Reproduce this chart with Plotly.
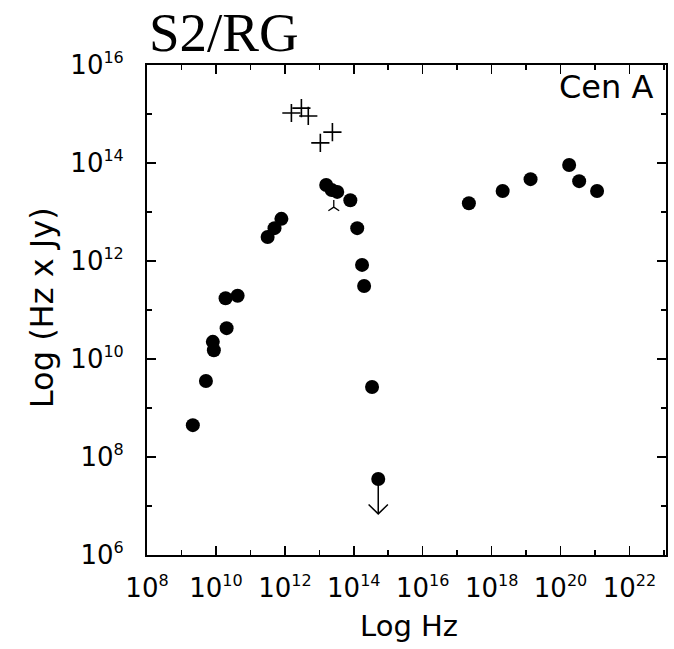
import plotly.graph_objects as go

# ---- data (log10 values) ----
dot_logfreq = [9.33, 9.71, 9.91, 9.94, 10.31, 10.28, 10.63, 11.50, 11.70, 11.90,
               13.20, 13.36, 13.52, 13.90, 14.10, 14.24, 14.30, 14.53,
               17.34, 18.32, 19.13, 20.25, 20.54, 21.06]
dot_logflux = [8.65, 9.55, 10.35, 10.18, 10.63, 11.24, 11.29, 12.49, 12.67, 12.86,
               13.55, 13.45, 13.41, 13.24, 12.67, 11.92, 11.49, 9.43,
               13.18, 13.43, 13.67, 13.96, 13.63, 13.43]

cross_logfreq = [12.19, 12.48, 12.68, 13.03, 13.38]
cross_logflux = [15.02, 15.12, 14.96, 14.41, 14.63]

vmark_logfreq = [13.42]
vmark_logflux = [13.10]

limit_logfreq = [14.71]
limit_logflux = [7.55]

x_major = [8, 10, 12, 14, 16, 18, 20, 22]
x_minor = [9, 11, 13, 15, 17, 19, 21, 23]
y_major = [6, 8, 10, 12, 14, 16]
y_minor = [7, 9, 11, 13, 15]

# styling constants
ARROW_LEN = 0.71   # decades
HEAD_DX = 0.28     # decades
HEAD_DY = 0.19     # decades


def p10(v):
    return 10.0 ** float(v)


def sup_label(v):
    return f"10<sup><span style='font-size:16px'>{v}</span></sup>"


fig = go.Figure()

fig.add_trace(go.Scatter(
    x=[p10(v) for v in dot_logfreq], y=[p10(v) for v in dot_logflux],
    mode="markers", marker=dict(symbol="circle", size=14, color="black"),
    showlegend=False, hoverinfo="skip"))

fig.add_trace(go.Scatter(
    x=[p10(v) for v in cross_logfreq], y=[p10(v) for v in cross_logflux],
    mode="markers",
    marker=dict(symbol="cross-thin-open", size=13, color="black",
                line=dict(color="black", width=1.6)),
    showlegend=False, hoverinfo="skip"))

fig.add_trace(go.Scatter(
    x=[p10(v) for v in vmark_logfreq], y=[p10(v) for v in vmark_logflux],
    mode="markers",
    marker=dict(symbol="y-up-open", size=9, color="black",
                line=dict(color="black", width=1.3)),
    showlegend=False, hoverinfo="skip"))

# upper limit point with downward arrow
fig.add_trace(go.Scatter(
    x=[p10(v) for v in limit_logfreq], y=[p10(v) for v in limit_logflux],
    mode="markers", marker=dict(symbol="circle", size=14, color="black"),
    showlegend=False, hoverinfo="skip"))
for lx, ly in zip(limit_logfreq, limit_logflux):
    tip = ly - ARROW_LEN
    fig.add_trace(go.Scatter(
        x=[p10(lx), p10(lx), None, p10(lx - HEAD_DX), p10(lx), p10(lx + HEAD_DX)],
        y=[p10(ly), p10(tip), None, p10(tip + HEAD_DY), p10(tip), p10(tip + HEAD_DY)],
        mode="lines", line=dict(color="black", width=1.5),
        showlegend=False, hoverinfo="skip"))

axis_common = dict(
    type="log", showline=True, linecolor="black", linewidth=2, mirror="ticks",
    ticks="inside", ticklen=9, tickwidth=1.5, tickcolor="black",
    showgrid=False, zeroline=False,
    tickfont=dict(family="DejaVu Sans", size=26, color="black"),
)

fig.update_xaxes(
    **axis_common, range=[8, 23.06], tickmode="array",
    tickvals=[p10(v) for v in x_major],
    ticktext=[sup_label(v) for v in x_major],
    minor=dict(tickmode="array", tickvals=[p10(v) for v in x_minor],
               ticks="inside", ticklen=5, tickwidth=1.5, tickcolor="black"),
    ticklabelstandoff=9,
)
fig.update_yaxes(
    **axis_common, range=[6, 16], tickmode="array",
    tickvals=[p10(v) for v in y_major],
    ticktext=[sup_label(v) for v in y_major],
    minor=dict(tickmode="array", tickvals=[p10(v) for v in y_minor],
               ticks="inside", ticklen=5, tickwidth=1.5, tickcolor="black"),
    ticklabelstandoff=16,
)

fig.add_annotation(text="S2/RG", xref="paper", yref="paper", x=0.0, y=1.1327,
                   xanchor="left", yanchor="top", showarrow=False,
                   font=dict(family="Liberation Serif", size=55, color="black"))
fig.add_annotation(text="Cen A", xref="paper", yref="paper", x=0.978, y=0.997,
                   xanchor="right", yanchor="top", showarrow=False,
                   font=dict(family="DejaVu Sans", size=32, color="black"))
fig.add_annotation(text="Log Hz", xref="paper", yref="paper", x=0.505, y=-0.145,
                   xanchor="center", yanchor="middle", showarrow=False,
                   font=dict(family="DejaVu Sans", size=29, color="black"))
fig.add_annotation(text="Log (Hz x Jy)", xref="paper", yref="paper", x=-0.203, y=0.505,
                   xanchor="center", yanchor="middle", showarrow=False, textangle=-90,
                   font=dict(family="DejaVu Sans", size=32, color="black"))

fig.update_layout(
    width=674, height=649,
    margin=dict(l=147, r=6, t=65, b=94),
    paper_bgcolor="white", plot_bgcolor="white",
    showlegend=False,
)

# remove the default 8px page margin so the figure fills the window exactly
fig.write_html("out.html",
               config={"displayModeBar": False, "staticPlot": True},
               post_script="document.body.style.margin='0';"
                           "document.body.style.overflow='hidden';")
